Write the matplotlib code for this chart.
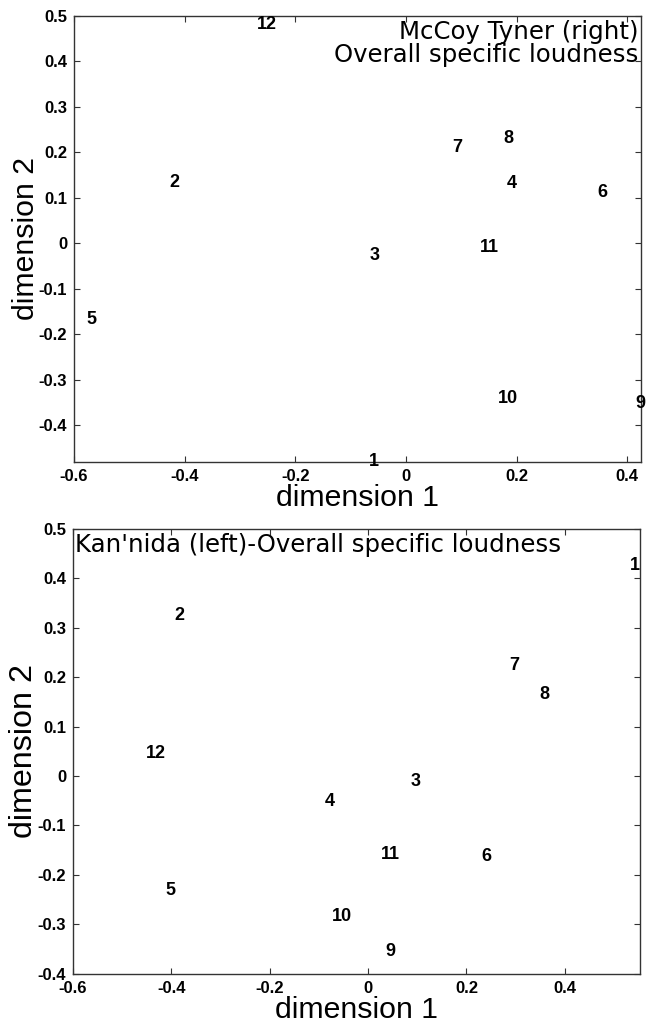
import numpy as np
import matplotlib
matplotlib.use('Agg')
import matplotlib.pyplot as plt

# MDS coordinates (label -> dim1, dim2)
labels = ['1', '2', '3', '4', '5', '6', '7', '8', '9', '10', '11', '12']

tyner_x = [-0.066, -0.427, -0.065, 0.182, -0.577, 0.346, 0.083, 0.176, 0.414, 0.167, 0.133, -0.270]
tyner_y = [-0.476, 0.138, -0.023, 0.135, -0.163, 0.116, 0.216, 0.234, -0.347, -0.336, -0.005, 0.485]

kannida_x = [0.532, -0.393, 0.086, -0.088, -0.412, 0.231, 0.288, 0.348, 0.036, -0.074, 0.027, -0.451]
kannida_y = [0.431, 0.329, -0.007, -0.048, -0.228, -0.159, 0.228, 0.170, -0.350, -0.281, -0.154, 0.049]

top_xticks = [-0.6, -0.4, -0.2, 0, 0.2, 0.4]
top_xticklabels = ['-0.6', '-0.4', '-0.2', '0', '0.2', '0.4']
top_yticks = [-0.4, -0.3, -0.2, -0.1, 0, 0.1, 0.2, 0.3, 0.4, 0.5]
top_yticklabels = ['-0.4', '-0.3', '-0.2', '-0.1', '0', '0.1', '0.2', '0.3', '0.4', '0.5']

bot_xticks = [-0.6, -0.4, -0.2, 0, 0.2, 0.4]
bot_xticklabels = ['-0.6', '-0.4', '-0.2', '0', '0.2', '0.4']
bot_yticks = [-0.4, -0.3, -0.2, -0.1, 0, 0.1, 0.2, 0.3, 0.4, 0.5]
bot_yticklabels = ['-0.4', '-0.3', '-0.2', '-0.1', '0', '0.1', '0.2', '0.3', '0.4', '0.5']

plt.rcParams['font.family'] = ['Liberation Sans', 'DejaVu Sans']


def style_axes(ax, xticks, xticklabels, yticks, yticklabels, ylab_size):
    ax.set_xticks(xticks)
    ax.set_xticklabels(xticklabels, fontsize=12, fontweight='bold')
    ax.set_yticks(yticks)
    ax.set_yticklabels(yticklabels, fontsize=12, fontweight='bold')
    ax.tick_params(direction='in', length=4, width=0.8, top=True, right=True,
                   color='#333333', pad=5)
    for s in ax.spines.values():
        s.set_color('#333333')
        s.set_linewidth(1.0)
    ax.set_xlabel('dimension 1', fontsize=21.8, labelpad=0)
    ax.set_ylabel('dimension 2', fontsize=ylab_size, labelpad=-1)


def put_labels(ax, xs, ys):
    for lab, x, y in zip(labels, xs, ys):
        ax.text(x, y, lab, ha='left', va='center_baseline', fontsize=13,
                fontweight='bold', clip_on=False)


fig = plt.figure(figsize=(6.54, 10.24), dpi=100)

ax1 = fig.add_axes([0.1131, 0.5491, 0.867, 0.4353])
put_labels(ax1, tyner_x, tyner_y)
ax1.set_xlim(-0.6, 0.425)
ax1.set_ylim(-0.48, 0.5)
style_axes(ax1, top_xticks, top_xticklabels, top_yticks, top_yticklabels, 21.8)
ax1.text(0.996, 0.992, 'McCoy Tyner (right)\nOverall specific loudness',
         transform=ax1.transAxes, ha='right', va='top', fontsize=17.6,
         family='DejaVu Sans', linespacing=0.98, multialignment='right')

ax2 = fig.add_axes([0.1116, 0.0491, 0.867, 0.4343])
put_labels(ax2, kannida_x, kannida_y)
ax2.set_xlim(-0.6, 0.553)
ax2.set_ylim(-0.4, 0.5)
style_axes(ax2, bot_xticks, bot_xticklabels, bot_yticks, bot_yticklabels, 23.2)
ax2.text(0.004, 0.992, "Kan'nida (left)-Overall specific loudness",
         transform=ax2.transAxes, ha='left', va='top', fontsize=17.6,
         family='DejaVu Sans')

fig.savefig('out.png', dpi=100)
